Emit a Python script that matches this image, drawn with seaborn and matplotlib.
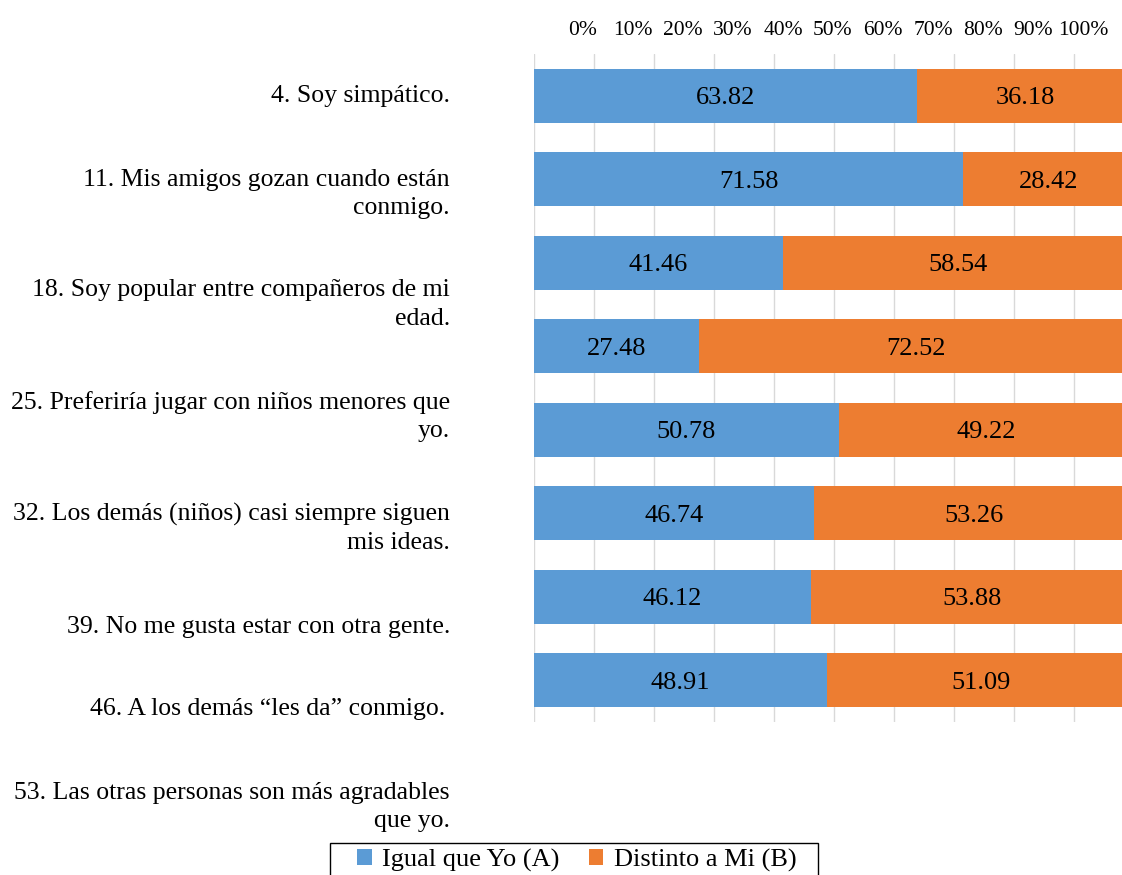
import numpy as np
import pandas as pd
import seaborn as sns
import matplotlib.pyplot as plt
from matplotlib.patches import Patch, Rectangle
from matplotlib.ticker import PercentFormatter

# data
items = [
    "4. Soy simpático.",
    "11. Mis amigos gozan cuando están\nconmigo.",
    "18. Soy popular entre compañeros de mi\nedad.",
    "25. Preferiría jugar con niños menores que\nyo.",
    "32. Los demás (niños) casi siempre siguen\nmis ideas.",
    "39. No me gusta estar con otra gente.",
    "46. A los demás \u201cles da\u201d conmigo.\u2009",
    "53. Las otras personas son más agradables\nque yo.",
]
igual = [63.82, 71.58, 41.46, 27.48, 50.78, 46.74, 46.12, 48.91]
distinto = [36.18, 28.42, 58.54, 72.52, 49.22, 53.26, 53.88, 51.09]
series_names = ["Igual que Yo (A)", "Distinto a Mi (B)"]
colors = ["#5B9BD5", "#ED7D31"]

# the item labels sit slightly off the bars in the original (bar units)
label_y = [0, 1.18, 2.5, 3.84, 5.18, 6.36, 7.35, 8.52]

sns.set_style("white")
plt.rcParams["font.family"] = ["Liberation Serif", "DejaVu Serif"]
plt.rcParams["text.color"] = "black"
plt.rcParams["xtick.color"] = "black"

df = pd.DataFrame({"bar": [f"b{i}" for i in range(len(igual))],
                   "igual": igual,
                   "total": np.array(igual) + np.array(distinto)})

W, H = 1122, 875
fig = plt.figure(figsize=(W / 100, H / 100), dpi=100)
ax = fig.add_axes([534 / W, 1 - 722 / H, 600 / W, 668 / H])

sns.barplot(data=df, x="total", y="bar", orient="h", color=colors[1],
            saturation=1, width=0.65, linewidth=0, ax=ax, zorder=2)
sns.barplot(data=df, x="igual", y="bar", orient="h", color=colors[0],
            saturation=1, width=0.65, linewidth=0, ax=ax, zorder=3)

for i, (a, b) in enumerate(zip(igual, distinto)):
    ax.text(a / 2, i, f"{a:.2f}", ha="center", va="center_baseline",
            fontsize=19, zorder=4)
    ax.text(a + b / 2, i, f"{b:.2f}", ha="center", va="center_baseline",
            fontsize=19, zorder=4)

ax.set_xlim(0, 100)
ax.set_ylim(7.5, -0.5)
ax.set_xticks(np.arange(0, 101, 10))
ax.grid(axis="x", color="#D9D9D9", linewidth=1, zorder=0)
ax.set_axisbelow(True)
ax.tick_params(axis="both", length=0, labelleft=False, labelbottom=False)
ax.set_xlabel("")
ax.set_ylabel("")
sns.despine(ax=ax, left=True, bottom=True)

# item labels
for txt, yy in zip(items, label_y):
    ax.text(-14, yy, txt, ha="right", va="center",
            fontsize=18.5, linespacing=1.36, clip_on=False)

# percent scale on top (offset from the gridlines like the original)
ax2 = ax.twiny()
ax2.set_xlim(-9.8, 110.2)
ax2.set_xticks(np.arange(0, 101, 10))
ax2.xaxis.set_major_formatter(PercentFormatter(decimals=0))
ax2.tick_params(axis="x", length=0, pad=10, labelsize=15.5, bottom=False)
ax2.set_yticks([])
for s in ax2.spines.values():
    s.set_visible(False)

# legend, with its box running off the bottom edge as in the original
handles = [Patch(facecolor=c, edgecolor="none") for c in colors]
leg = fig.legend(handles, series_names, loc="upper center", ncol=2,
                 bbox_to_anchor=(577 / W, 1 - 849 / H), borderaxespad=0,
                 frameon=False, fontsize=19,
                 handlelength=0.55, handleheight=0.55, handletextpad=0.4,
                 columnspacing=1.1, borderpad=0.0)
fig.patches.append(Rectangle((330 / W, -0.02), 488 / W, 0.02 + 1 - 843 / H,
                             transform=fig.transFigure, fill=False,
                             edgecolor="black", linewidth=1))

fig.savefig("out.png", dpi=100)
